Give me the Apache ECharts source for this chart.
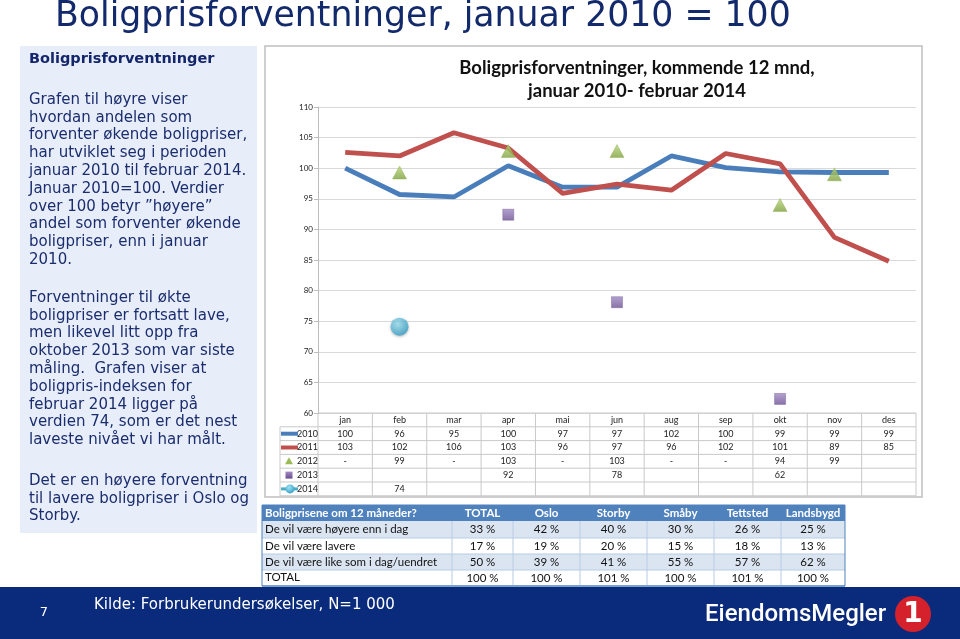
<!DOCTYPE html>
<html><head><meta charset="utf-8">
<script src="https://cdn.jsdelivr.net/npm/echarts/dist/echarts.min.js"></script>
<style>html,body{margin:0;padding:0;background:#fff;}#c{width:960px;height:639px;}</style>
</head><body><div id="c"></div><script>
// ---- data ----
const months = ['jan','feb','mar','apr','mai','jun','aug','sep','okt','nov','des'];
const seriesNames = ['2010','2011','2012','2013','2014'];
const s2010 = [100,95.7,95.3,100.4,96.9,96.9,102.0,100.1,99.4,99.3,99.3];
const s2011 = [102.6,102.0,105.8,103.3,95.9,97.4,96.4,102.4,100.7,88.7,84.8];
const s2012 = ['-',99.3,'-',102.8,'-',102.8,'-','-',94.0,99.0,null];
const s2013 = [null,null,null,92.4,null,78.1,null,null,62.3,null,null];
const s2014 = [null,74.1,null,null,null,null,null,null,null,null,null];
const yMin = 60, yMax = 110, yStep = 5;

const surveyCols = ['TOTAL','Oslo','Storby','Småby','Tettsted','Landsbygd'];
const surveyHeader = 'Boligprisene om 12 måneder?';
const surveyRows = ['De vil være høyere enn i dag','De vil være lavere','De vil være like som i dag/uendret','TOTAL'];
const surveyHigher = [33,42,40,30,26,25];
const surveyLower = [17,19,20,15,18,13];
const surveySame = [50,39,41,55,57,62];
const surveyTotal = [100,100,101,100,101,100];

const slideTitle = 'Boligprisforventninger, januar 2010 = 100';
const chartTitle = 'Boligprisforventninger, kommende 12 mnd,\njanuar 2010- februar 2014';
const panelHead = 'Boligprisforventninger';
const panelP1 = ['Grafen til høyre viser','hvordan andelen som','forventer økende boligpriser,','har utviklet seg i perioden','januar 2010 til februar 2014.','Januar 2010=100. Verdier','over 100 betyr \u201dhøyere\u201d','andel som forventer økende','boligpriser, enn i januar','2010.'];
const panelP2 = ['Forventninger til økte','boligpriser er fortsatt lave,','men likevel litt opp fra','oktober 2013 som var siste','måling.  Grafen viser at','boligpris-indeksen for','februar 2014 ligger på','verdien 74, som er det nest','laveste nivået vi har målt.'];
const panelP3 = ['Det er en høyere forventning','til lavere boligpriser i Oslo og','Storby.'];
const footerPage = '7';
const footerSource = 'Kilde: Forbrukerundersøkelser, N=1 000';
const logoText = 'EiendomsMegler';

// ---- chart ----
const chart = echarts.init(document.getElementById('c'), null, {renderer:'canvas'});
const blue = '#4a7ebb', red = '#c0504d', green = '#9bbb59', purple = '#8064a2', cyan = '#4bacc6';
const greenFill = {type:'linear',x:0,y:0,x2:0,y2:1,colorStops:[{offset:0,color:'#b9d87a'},{offset:1,color:'#7c9f3a'}]};
const purpleFill = {type:'linear',x:0,y:0,x2:0,y2:1,colorStops:[{offset:0,color:'#a08ac4'},{offset:1,color:'#6a4e90'}]};
const cyanFill = {type:'radial',x:0.4,y:0.35,r:0.75,colorStops:[{offset:0,color:'#9fe3f5'},{offset:1,color:'#2a98c0'}]};

const option = {
  animation:false,
  backgroundColor:'#ffffff',
  title:{text:chartTitle,left:632,top:52,textAlign:'center',
    textStyle:{fontFamily:'Lato',fontSize:18.5,fontWeight:'bold',color:'#111',lineHeight:23}},
  grid:{left:318,top:107,width:598,height:306,containLabel:false},
  xAxis:{type:'category',data:months,boundaryGap:true,
    axisLine:{show:false},axisTick:{show:false},
    axisLabel:{fontFamily:'Lato',fontSize:9,color:'#222',margin:3}},
  yAxis:{type:'value',min:yMin,max:yMax,interval:yStep,
    axisLine:{show:true,lineStyle:{color:'#bdbdbd'}},
    axisTick:{show:true,length:4,lineStyle:{color:'#bdbdbd'}},
    splitLine:{lineStyle:{color:'#d9d9d9'}},
    axisLabel:{fontFamily:'Lato',fontSize:8,color:'#222',margin:5}},
  series:[
    {name:seriesNames[0],type:'line',data:s2010,symbol:'none',lineStyle:{width:4.8,color:blue},itemStyle:{color:blue},z:3},
    {name:seriesNames[1],type:'line',data:s2011,symbol:'none',lineStyle:{width:4.8,color:red},itemStyle:{color:red},z:4},
    {name:seriesNames[2],type:'scatter',data:s2012,symbol:'triangle',symbolSize:[14,13],itemStyle:{color:greenFill,borderColor:'#8aab4a',borderWidth:0.5},z:5},
    {name:seriesNames[3],type:'scatter',data:s2013,symbol:'rect',symbolSize:11,itemStyle:{color:purpleFill,borderColor:'#6b5190',borderWidth:0.5},z:5},
    {name:seriesNames[4],type:'scatter',data:s2014,symbol:'circle',symbolSize:18,itemStyle:{color:cyanFill,shadowBlur:3,shadowColor:'rgba(0,0,0,0.35)',shadowOffsetY:1},z:5}
  ]
};
chart.setOption(option);

// ---- graphic elements: slide, data table, survey table ----
const g = [];
const navy = '#1b2d6e';
g.push({type:'rect',z:-20,shape:{x:265,y:46,width:657,height:451},style:{fill:'#fff',stroke:'#bfbfbf',lineWidth:1.5}});
g.push({type:'text',x:55,y:17,style:{text:slideTitle,fontFamily:'DejaVu Sans',fontSize:34.7,fill:'#12296b',verticalAlign:'middle',align:'left'}});
g.push({type:'rect',z:-20,shape:{x:20,y:46,width:237,height:487},style:{fill:'#e8eef9'}});
g.push({type:'text',x:29,y:59,style:{text:panelHead,fontFamily:'DejaVu Sans',fontSize:14.5,fontWeight:'bold',fill:'#14266b',verticalAlign:'middle'}});
g.push({type:'text',x:29,y:91,style:{text:panelP1.join('\n'),fontFamily:'DejaVu Sans',fontSize:15,lineHeight:17.8,fill:navy,verticalAlign:'top'}});
g.push({type:'text',x:29,y:289,style:{text:panelP2.join('\n'),fontFamily:'DejaVu Sans',fontSize:15,lineHeight:17.8,fill:navy,verticalAlign:'top'}});
g.push({type:'text',x:29,y:472.5,style:{text:panelP3.join('\n'),fontFamily:'DejaVu Sans',fontSize:15,lineHeight:17.5,fill:navy,verticalAlign:'top'}});

// data table below the chart, aligned to the category axis
const cx = months.map((m,i)=>chart.convertToPixel({xAxisIndex:0}, i));
const step = cx[1]-cx[0];
const yBottom = chart.convertToPixel({yAxisIndex:0}, yMin);
const rowH = 13.8;
const rowsY = [0,1,2,3,4,5,6].map(k=>yBottom + k*rowH);
const keyLeft = 280;
const tableLeft = cx[0]-step/2, tableRight = cx[cx.length-1]+step/2;
const gridCol = '#c9c9c9';
g.push({type:'line',shape:{x1:tableLeft,y1:rowsY[0],x2:tableRight,y2:rowsY[0]},style:{stroke:gridCol,lineWidth:1}});
for (let k=1;k<rowsY.length;k++) g.push({type:'line',shape:{x1:keyLeft,y1:rowsY[k],x2:tableRight,y2:rowsY[k]},style:{stroke:gridCol,lineWidth:1}});
for (let i=0;i<=months.length;i++){ const x = tableLeft + i*step; g.push({type:'line',shape:{x1:x,y1:rowsY[0],x2:x,y2:rowsY[6]},style:{stroke:gridCol,lineWidth:1}}); }
g.push({type:'line',shape:{x1:keyLeft,y1:rowsY[1],x2:keyLeft,y2:rowsY[6]},style:{stroke:gridCol,lineWidth:1}});
const allSeries = [s2010,s2011,s2012,s2013,s2014];
const fmt = v => v===null||v===undefined ? '' : (v==='-' ? '-' : String(Math.round(v)));
allSeries.forEach((arr,r)=>{
  const yc = rowsY[r+1] + rowH/2;
  arr.forEach((v,i)=>{
    const t = fmt(v);
    if (t) g.push({type:'text',x:cx[i],y:yc,style:{text:t,fontFamily:'Lato',fontSize:9,fill:'#222',align:'center',verticalAlign:'middle'}});
  });
  g.push({type:'text',x:318,y:yc,style:{text:seriesNames[r],fontFamily:'Lato',fontSize:9,fill:'#222',align:'right',verticalAlign:'middle'}});
});
const ky = k => rowsY[k+1] + rowH/2;
g.push({type:'line',shape:{x1:281,y1:ky(0),x2:298,y2:ky(0)},style:{stroke:blue,lineWidth:4}});
g.push({type:'line',shape:{x1:281,y1:ky(1),x2:298,y2:ky(1)},style:{stroke:red,lineWidth:4}});
g.push({type:'polygon',shape:{points:[[289,ky(2)-4],[293,ky(2)+3],[285,ky(2)+3]]},style:{fill:green}});
g.push({type:'rect',shape:{x:285.5,y:ky(3)-3.5,width:7,height:7},style:{fill:purpleFill}});
g.push({type:'line',shape:{x1:281,y1:ky(4),x2:298,y2:ky(4)},style:{stroke:cyan,lineWidth:3}});
g.push({type:'circle',shape:{cx:290,cy:ky(4),r:4.5},style:{fill:cyanFill}});

// survey table
const colB = [262,452,513,580,647,714,781,845];
const rowB = [505,521,538,554,570,586];
g.push({type:'rect',shape:{x:colB[0],y:rowB[0],width:colB[7]-colB[0],height:rowB[1]-rowB[0]},style:{fill:'#4f81bd'}});
const bands = ['#dbe5f1','#ffffff','#dbe5f1','#ffffff'];
for (let r=0;r<4;r++) g.push({type:'rect',shape:{x:colB[0],y:rowB[r+1],width:colB[7]-colB[0],height:rowB[r+2]-rowB[r+1]},style:{fill:bands[r]}});
for (let r=1;r<5;r++) g.push({type:'line',shape:{x1:colB[0],y1:rowB[r+1],x2:colB[7],y2:rowB[r+1]},style:{stroke:r===4?'#4f81bd':'#b8cce4',lineWidth:1}});
for (let c=1;c<7;c++) g.push({type:'line',shape:{x1:colB[c],y1:rowB[1],x2:colB[c],y2:rowB[5]},style:{stroke:'#b8cce4',lineWidth:1}});
g.push({type:'rect',shape:{x:colB[0],y:rowB[0],width:colB[7]-colB[0],height:rowB[5]-rowB[0]},style:{fill:'none',stroke:'#4f81bd',lineWidth:1}});
const tf = 'Lato';
g.push({type:'text',x:colB[0]+3,y:(rowB[0]+rowB[1])/2,style:{text:surveyHeader,fontFamily:tf,fontSize:11.5,fontWeight:'bold',fill:'#fff',verticalAlign:'middle'}});
surveyCols.forEach((c,i)=>g.push({type:'text',x:(colB[i+1]+colB[i+2])/2,y:(rowB[0]+rowB[1])/2,style:{text:c,fontFamily:tf,fontSize:11.5,fontWeight:'bold',fill:'#fff',align:'center',verticalAlign:'middle'}}));
const surveyVals = [surveyHigher,surveyLower,surveySame,surveyTotal];
surveyRows.forEach((name,r)=>{
  const yc = (rowB[r+1]+rowB[r+2])/2;
  g.push({type:'text',x:colB[0]+3,y:yc-(r===3?1:0),style:{text:name,fontFamily:tf,fontSize:11.5,fill:'#111',verticalAlign:'middle'}});
  surveyVals[r].forEach((v,i)=>g.push({type:'text',x:(colB[i+1]+colB[i+2])/2,y:yc,style:{text:v+' %',fontFamily:tf,fontSize:11.5,fill:'#111',align:'center',verticalAlign:'middle'}}));
});

// footer
g.push({type:'rect',shape:{x:0,y:587,width:960,height:52},style:{fill:'#0a2a7c'}});
g.push({type:'text',x:44,y:613,style:{text:footerPage,fontFamily:'DejaVu Sans',fontSize:13,fill:'#fff',align:'center',verticalAlign:'middle'}});
g.push({type:'text',x:94,y:605,style:{text:footerSource,fontFamily:'DejaVu Sans',fontSize:15,fill:'#fff',verticalAlign:'middle'}});
g.push({type:'text',x:705,y:615,style:{text:logoText,fontFamily:'Roboto',fontSize:24,fontWeight:500,fill:'#fff',verticalAlign:'middle'}});
g.push({type:'circle',shape:{cx:913,cy:614,r:18},style:{fill:'#d4212b'}});
g.push({type:'text',x:913,y:615,style:{text:'1',fontFamily:'DejaVu Sans',fontSize:28,fontWeight:'bold',fill:'#fff',align:'center',verticalAlign:'middle'}});

chart.setOption({graphic:{elements:g}});
</script></body></html>
